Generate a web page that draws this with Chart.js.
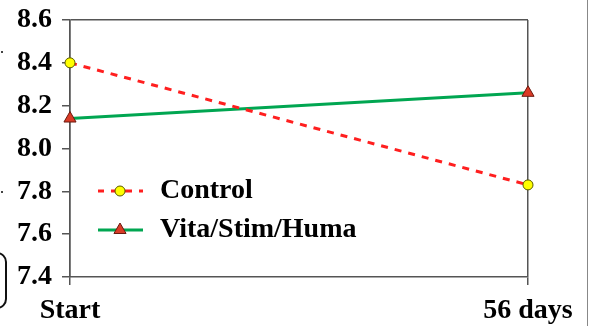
<!DOCTYPE html>
<html>
<head>
<meta charset="utf-8">
<script src="https://cdn.jsdelivr.net/npm/chart.js@4/dist/chart.umd.min.js"></script>
<style>
  html, body { margin: 0; padding: 0; background: #fff; }
  #wrap { width: 589px; height: 326px; position: relative; }
</style>
</head>
<body>
<div id="wrap"><canvas id="chart" width="589" height="326"></canvas></div>
<script>
// Measurements at the start and after 56 days
const categories = ['Start', '56 days'];
const controlValues = [8.40, 7.83];
const treatedValues = [8.14, 8.26];
const yTickValues = [7.4, 7.6, 7.8, 8.0, 8.2, 8.4, 8.6];
const seriesNames = ['Control', 'Vita/Stim/Huma'];

const FONT = { family: '"Liberation Serif", "Times New Roman", serif', size: 28, weight: 'bold' };
const AXIS = '#555555';

// Legend drawn inside the plot area, line sample with marker then label
const innerLegend = {
  id: 'innerLegend',
  afterDatasetsDraw(chart) {
    const ctx = chart.ctx;
    const rows = [{ y: 191 }, { y: 230 }];
    chart.data.datasets.forEach((ds, i) => {
      const y = rows[i].y;
      ctx.save();
      ctx.strokeStyle = ds.borderColor;
      ctx.lineWidth = ds.borderWidth;
      if (ds.borderDash) { ctx.setLineDash(ds.borderDash); ctx.lineDashOffset = 1; }
      ctx.beginPath();
      ctx.moveTo(98, y);
      ctx.lineTo(143, y);
      ctx.stroke();
      ctx.setLineDash([]);
      // marker
      const r = ds.pointRadius;
      ctx.fillStyle = ds.pointBackgroundColor;
      ctx.strokeStyle = ds.pointBorderColor;
      ctx.lineWidth = ds.pointBorderWidth;
      ctx.beginPath();
      if (ds.pointStyle === 'triangle') {
        ctx.moveTo(120, y - r);
        ctx.lineTo(120 + r * 0.866, y + r * 0.5);
        ctx.lineTo(120 - r * 0.866, y + r * 0.5);
        ctx.closePath();
      } else {
        ctx.arc(120, y, r, 0, Math.PI * 2);
      }
      ctx.fill();
      ctx.stroke();
      ctx.fillStyle = '#000';
      ctx.font = `${FONT.weight} ${FONT.size}px ${FONT.family}`;
      ctx.textBaseline = 'middle';
      ctx.fillText(ds.label, 160, y);
      ctx.restore();
    });
  }
};

// Page furniture around the chart: right rule, bracket edge and dots on the left
const frame = {
  id: 'frame',
  beforeDraw(chart) {
    const ctx = chart.ctx;
    ctx.save();
    ctx.fillStyle = '#fff';
    ctx.fillRect(0, 0, chart.width, chart.height);
    ctx.restore();
  },
  afterDraw(chart) {
    const ctx = chart.ctx;
    ctx.save();
    ctx.strokeStyle = '#888';
    ctx.lineWidth = 1;
    ctx.beginPath();
    ctx.moveTo(587.5, 0);
    ctx.lineTo(587.5, chart.height);
    ctx.stroke();
    ctx.strokeStyle = '#111';
    ctx.lineWidth = 2;
    ctx.beginPath();
    ctx.roundRect(-40, 253, 46, 55, 9);
    ctx.stroke();
    ctx.fillStyle = '#444';
    ctx.fillRect(1, 51, 2, 2);
    ctx.fillRect(1, 191, 2, 2);
    ctx.restore();
  }
};

new Chart(document.getElementById('chart'), {
  type: 'line',
  data: {
    labels: categories,
    datasets: [
      {
        label: seriesNames[0],
        data: controlValues,
        borderColor: '#FF1F1F',
        borderWidth: 3,
        borderDash: [7, 7],
        pointStyle: 'circle',
        pointRadius: 5,
        pointBackgroundColor: '#FFFF00',
        pointBorderColor: '#5a5a00',
        pointBorderWidth: 1,
        clip: false,
        tension: 0
      },
      {
        label: seriesNames[1],
        data: treatedValues,
        borderColor: '#00A651',
        borderWidth: 3,
        pointStyle: 'triangle',
        pointRadius: 7,
        pointBackgroundColor: '#DA3B26',
        pointBorderColor: '#6b1a10',
        pointBorderWidth: 1,
        clip: false,
        tension: 0
      }
    ]
  },
  options: {
    responsive: false,
    animation: false,
    devicePixelRatio: 1,
    layout: { padding: { top: 20, right: 61, left: 0, bottom: 0 } },
    plugins: { legend: { display: false }, tooltip: { enabled: false } },
    scales: {
      x: {
        type: 'category',
        offset: false,
        afterFit(s) { s.height = 49; s.paddingLeft = 0; s.paddingRight = 0; },
        grid: { color: AXIS, lineWidth: 1.5, tickLength: 8, tickColor: AXIS },
        border: { display: true, color: AXIS, width: 1.5 },
        ticks: { color: '#000', font: FONT, padding: 9, maxRotation: 0, autoSkip: false }
      },
      y: {
        min: 7.4,
        max: 8.6,
        afterFit(s) { s.width = 70; s.paddingTop = 0; s.paddingBottom = 0; },
        afterBuildTicks(s) { s.ticks = yTickValues.map(v => ({ value: v })); },
        grid: {
          color: ctx => (ctx.index === yTickValues.length - 1 ? AXIS : 'rgba(0,0,0,0)'),
          lineWidth: 1.5,
          tickLength: 8,
          tickColor: AXIS
        },
        border: { display: true, color: AXIS, width: 1.5 },
        ticks: {
          color: '#000',
          font: FONT,
          padding: 10,
          callback: v => Number(v).toFixed(1)
        }
      }
    }
  },
  plugins: [frame, innerLegend]
});
</script>
</body>
</html>
